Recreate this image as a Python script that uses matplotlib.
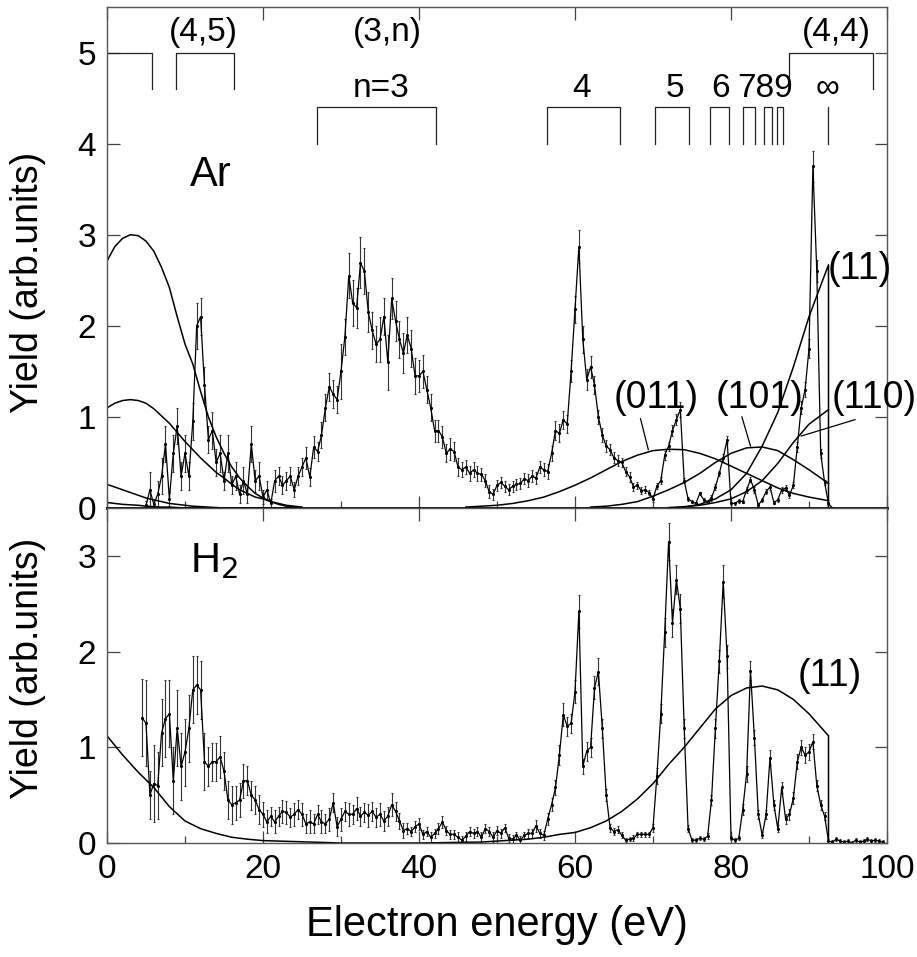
import numpy as np
import matplotlib
matplotlib.use('Agg')
import matplotlib.pyplot as plt
from matplotlib.ticker import MultipleLocator

plt.rcParams['font.family'] = ['Liberation Sans', 'DejaVu Sans']
TICK_FONT = ['Liberation Sans Narrow', 'Liberation Sans', 'DejaVu Sans']

# ---------------- Ar spectrum (top panel), 0.5 eV channels ----------------
ar_energy = np.arange(5.0, 93.01, 0.5)
ar_yield = [
    # 5.0 - 25.5
    0.03, 0.2, 0.04, 0.15, 0.35, 0.7, 0.1, 0.6, 0.9, 0.35,
    0.6, 0.35, 0.95, 2.0, 2.1, 1.35, 0.75, 0.85, 0.5, 0.6,
    0.3, 0.6, 0.25, 0.35, 0.15, 0.3, 0.15, 0.7, 0.3, 0.35,
    0.12, 0.2, 0.05, 0.3, 0.35, 0.25, 0.3, 0.35, 0.2, 0.35,
    0.45, 0.55,
    # 26.0 - 58.0
    0.34, 0.67, 0.62, 0.8, 1.1, 1.33, 1.25, 1.19, 1.5, 1.88,
    2.55, 2.25, 2.2, 2.69, 2.6, 2.15, 1.95, 1.8, 1.85, 2.1,
    1.6, 2.3, 2.05, 1.85, 1.7, 1.9, 1.75, 1.45, 1.45, 1.5,
    1.3, 1.1, 0.85, 0.85, 0.78, 0.6, 0.65, 0.62, 0.45, 0.42,
    0.45, 0.38, 0.42, 0.38, 0.37, 0.3, 0.18, 0.15, 0.25, 0.28,
    0.24, 0.2, 0.24, 0.26, 0.27, 0.32, 0.3, 0.35, 0.33, 0.45,
    0.42, 0.4, 0.6, 0.85, 0.82,
    # 58.5 - 93.0
    0.97, 0.92, 1.5, 2.18, 2.87, 1.85, 1.41, 1.55, 1.35, 1.0,
    0.8, 0.68, 0.64, 0.55, 0.52, 0.5, 0.4, 0.34, 0.23, 0.25,
    0.19, 0.2, 0.17, 0.1, 0.24, 0.3, 0.58, 0.68, 0.85, 0.97,
    1.08, 0.3, 0.1, 0.07, 0.05, 0.16, 0.09, 0.07, 0.11, 0.23,
    0.38, 0.55, 0.75, 0.05, 0.05, 0.08, 0.07, 0.2, 0.31, 0.2,
    0.03, 0.09, 0.18, 0.23, 0.06, 0.09, 0.2, 0.22, 0.14, 0.25,
    0.67, 1.1, 1.3, 1.75, 3.75, 2.6, 0.6, 0.28, 0.05, 0.0,
]
ar_err = [
    0.05, 0.2, 0.05, 0.15, 0.2, 0.2, 0.08, 0.2, 0.2, 0.15,
    0.2, 0.15, 0.2, 0.25, 0.2, 0.2, 0.15, 0.2, 0.15, 0.2,
    0.1, 0.2, 0.1, 0.15, 0.1, 0.15, 0.1, 0.2, 0.12, 0.15,
    0.08, 0.1, 0.05, 0.12, 0.1, 0.1, 0.1, 0.1, 0.08, 0.1,
    0.1, 0.12,
    0.1, 0.12, 0.1, 0.14, 0.15, 0.15, 0.15, 0.15, 0.3,
    0.2, 0.25, 0.25, 0.22, 0.28, 0.25, 0.22, 0.2, 0.2, 0.25,
    0.2, 0.3, 0.22, 0.22, 0.2, 0.22, 0.2, 0.2, 0.2, 0.18,
    0.18, 0.15, 0.15, 0.12, 0.12, 0.12, 0.1, 0.12, 0.1, 0.1,
    0.08, 0.08, 0.08, 0.08, 0.08, 0.07, 0.07, 0.07, 0.06, 0.06,
    0.06, 0.06, 0.06, 0.06, 0.06, 0.06, 0.06, 0.07, 0.07, 0.07,
    0.07, 0.07, 0.08, 0.08, 0.1, 0.1,
    0.1, 0.1, 0.12, 0.15, 0.18, 0.15, 0.12, 0.12, 0.1,
    0.08, 0.08, 0.07, 0.06, 0.06, 0.06, 0.05, 0.05, 0.05, 0.04,
    0.04, 0.04, 0.04, 0.03, 0.03,
    0.03, 0.04, 0.05, 0.05, 0.06, 0.06, 0.08, 0.03, 0.02, 0.02,
    0.02, 0.02, 0.02, 0.02, 0.03, 0.03, 0.03, 0.04, 0.04, 0.02,
    0.02, 0.02, 0.02, 0.03, 0.03, 0.03, 0.02, 0.02, 0.03, 0.03,
    0.02, 0.02, 0.03, 0.03, 0.03, 0.03, 0.05, 0.07, 0.08, 0.1,
    0.17, 0.12, 0.05, 0.03, 0.02, 0.0,
]

# model curves, Ar
low_e = list(range(0, 26))
ar_fit_a = [2.71, 2.87, 2.96, 3.0, 2.99, 2.93, 2.82, 2.64, 2.42, 2.1,
            1.8, 1.58, 1.28, 1.0, 0.78, 0.6, 0.45, 0.33, 0.24, 0.16,
            0.11, 0.07, 0.04, 0.02, 0.01, 0.0]
ar_fit_b = [1.1, 1.15, 1.18, 1.19, 1.18, 1.15, 1.09, 1.01, 0.93, 0.83,
            0.73, 0.64, 0.55, 0.47, 0.39, 0.33, 0.26, 0.2, 0.16, 0.12,
            0.1, 0.07, 0.05, 0.03, 0.02, 0.01]
ar_fit_c = [0.26, 0.23, 0.2, 0.17, 0.14, 0.11, 0.09, 0.07, 0.05, 0.04,
            0.03, 0.02, 0.015, 0.01, 0.005, 0.0, 0.0, 0.0, 0.0, 0.0,
            0.0, 0.0, 0.0, 0.0, 0.0, 0.0]
ar_fit_d = [0.06, 0.05, 0.04, 0.035, 0.03, 0.02, 0.015, 0.01, 0.01, 0.005,
            0.0, 0.0, 0.0, 0.0, 0.0, 0.0, 0.0, 0.0, 0.0, 0.0,
            0.0, 0.0, 0.0, 0.0, 0.0, 0.0]

fit_011_e = [46, 48, 50, 52, 54, 56, 58, 60, 62, 64, 66, 68, 70, 72, 74,
             76, 78, 80, 82, 84, 86, 88, 90, 92.5]
fit_011 = [0.01, 0.02, 0.03, 0.05, 0.08, 0.12, 0.18, 0.25, 0.33, 0.42,
           0.51, 0.58, 0.63, 0.645, 0.64, 0.6, 0.54, 0.46, 0.38, 0.3,
           0.22, 0.16, 0.12, 0.08]
fit_101_e = [62, 64, 66, 68, 70, 72, 74, 76, 78, 80, 82, 84, 86, 88, 90, 92.5]
fit_101 = [0.01, 0.02, 0.04, 0.07, 0.13, 0.2, 0.28, 0.38, 0.5, 0.6,
           0.66, 0.67, 0.63, 0.53, 0.42, 0.27]
fit_11_e = [74, 76, 78, 80, 82, 84, 86, 88, 90, 92.5, 92.5]
fit_11 = [0.01, 0.04, 0.1, 0.2, 0.38, 0.68, 1.05, 1.55, 2.1, 2.67, 0.0]
fit_110_e = [72, 74, 76, 78, 80, 82, 84, 86, 88, 90, 92.5]
fit_110 = [0.005, 0.015, 0.03, 0.06, 0.1, 0.18, 0.3, 0.49, 0.72, 0.92, 1.08]

# ---------------- H2 spectrum (bottom panel) ----------------
h2_energy = np.arange(4.5, 99.51, 0.5)
h2_yield = [
    # 4.5 - 51.0
    1.31, 1.25, 0.5, 0.62, 0.6, 1.15, 1.3, 1.35, 0.65, 1.2,
    0.8, 0.95, 1.2, 1.6, 1.65, 1.6, 0.85, 0.8, 0.85, 0.85,
    0.9, 0.75, 0.45, 0.4, 0.42, 0.45, 0.65, 0.65, 0.5, 0.45,
    0.35, 0.3, 0.22, 0.28, 0.22, 0.28, 0.33, 0.32, 0.27, 0.3,
    0.35, 0.3, 0.2, 0.22, 0.2, 0.3, 0.22, 0.2, 0.25, 0.42,
    0.17, 0.25, 0.33, 0.3, 0.3, 0.36, 0.28, 0.32, 0.29, 0.33,
    0.27, 0.3, 0.23, 0.28, 0.4, 0.33, 0.23, 0.13, 0.15, 0.12,
    0.17, 0.2, 0.09, 0.12, 0.06, 0.1, 0.15, 0.22, 0.13, 0.09,
    0.09, 0.06, 0.03, 0.07, 0.12, 0.1, 0.12, 0.06, 0.15, 0.12,
    0.06, 0.13, 0.1, 0.16,
    # 51.5 - 54.0
    0.05, 0.04, 0.08, 0.03, 0.08, 0.1,
    # 54.5 - 94.0
    0.1, 0.18, 0.1, 0.08, 0.25, 0.4, 0.58, 0.92, 1.34, 1.22,
    1.25, 1.58, 2.42, 0.8, 0.96, 1.0, 1.62, 1.79, 1.2, 0.5,
    0.16, 0.12, 0.14, 0.08, 0.03, 0.04, 0.05, 0.09, 0.09, 0.09,
    0.09, 0.16, 0.7, 1.35, 2.2, 3.15, 2.3, 2.75, 2.45, 1.2,
    0.15, 0.03, 0.03, 0.05, 0.04, 0.07, 0.45, 1.2, 1.9, 2.73,
    1.95, 0.05, 0.03, 0.05, 0.35, 0.72, 1.8, 1.1, 0.3, 0.08,
    0.3, 0.89, 0.4, 0.15, 0.58, 0.25, 0.3, 0.47, 0.85, 1.0,
    0.92, 0.95, 1.06, 0.6, 0.4, 0.28, 0.02, 0.01, 0.04, 0.02,
    # 94.5 - 99.5
    0.01, 0.02, 0.0, 0.03, 0.01, 0.02, 0.04, 0.02, 0.03, 0.02, 0.01,
]
h2_err = [
    0.4, 0.45, 0.25, 0.4, 0.35, 0.35, 0.4, 0.35, 0.35, 0.4,
    0.35, 0.35, 0.35, 0.35, 0.3, 0.3, 0.3,
    0.2, 0.2, 0.2, 0.22, 0.2, 0.2, 0.2, 0.18, 0.18, 0.18,
    0.15, 0.15, 0.15, 0.15, 0.13,
    0.12, 0.1, 0.12, 0.1, 0.12, 0.12, 0.1, 0.12, 0.1, 0.12,
    0.1, 0.12, 0.1, 0.1, 0.12, 0.1, 0.12, 0.1, 0.1, 0.12,
    0.1, 0.12, 0.1, 0.12, 0.1, 0.1, 0.12, 0.1, 0.1, 0.12,
    0.1, 0.1, 0.12, 0.1, 0.08, 0.08,
    0.06, 0.05, 0.06, 0.06, 0.05, 0.05, 0.05, 0.05, 0.06, 0.06,
    0.05, 0.05, 0.05, 0.05, 0.04, 0.05, 0.05, 0.05, 0.05, 0.05,
    0.05, 0.05, 0.05, 0.05, 0.05, 0.04, 0.04, 0.04, 0.04, 0.04,
    0.04, 0.05,
    0.05, 0.06, 0.05, 0.05, 0.06, 0.07, 0.08, 0.1, 0.12, 0.1,
    0.1, 0.12, 0.17, 0.08, 0.1, 0.1, 0.12, 0.14, 0.1, 0.06,
    0.04, 0.04, 0.04, 0.03, 0.02, 0.02, 0.03, 0.03, 0.03, 0.03,
    0.03, 0.04, 0.08, 0.1, 0.15, 0.19, 0.15, 0.15, 0.15, 0.1,
    0.04, 0.02, 0.02, 0.02, 0.02, 0.03, 0.05, 0.1, 0.12, 0.17,
    0.12, 0.02, 0.02, 0.02, 0.06, 0.08, 0.1, 0.08, 0.05, 0.03,
    0.05, 0.08, 0.05, 0.04, 0.06, 0.05, 0.06, 0.06, 0.08, 0.08,
    0.08, 0.08, 0.08, 0.06, 0.05, 0.04, 0.02, 0.02, 0.02, 0.02,
    0.02, 0.02, 0.02, 0.02, 0.02, 0.02, 0.02, 0.02, 0.02, 0.02, 0.02,
]
h2_fit_e = [0, 2, 4, 6, 8, 10, 12, 14, 16, 18, 20, 22, 24, 26, 28, 30,
            40, 44, 48, 50, 52, 54, 56, 58, 60, 62, 64, 66, 68, 70, 72,
            74, 76, 78, 80, 82, 84, 86, 88, 90, 92.5, 92.5]
h2_fit = [1.12, 0.92, 0.74, 0.58, 0.38, 0.23, 0.15, 0.1, 0.06, 0.04,
          0.025, 0.02, 0.015, 0.01, 0.005, 0.0, 0.0, 0.005, 0.01, 0.02,
          0.03, 0.04, 0.06, 0.09, 0.11, 0.16, 0.23, 0.33, 0.46, 0.62,
          0.82, 1.0, 1.2, 1.4, 1.54, 1.62, 1.64, 1.6, 1.5, 1.35,
          1.12, 0.0]

# ---------------- level diagram (eV positions) ----------------
# upper row: (left, right) of brackets at y 5.0 -> 4.6
upper_levels = [(-3.0, 5.8), (8.9, 16.3), (87.5, 98.2)]
upper_names = ['(4,5)', '(3,n)', '(4,4)']
upper_name_e = [12.3, 35.9, 93.5]
# lower row: y 4.4 -> 4.0 (n = 3 ... 9, series limit)
lower_levels = [(26.9, 42.2), (56.4, 65.8), (70.2, 74.6), (77.35, 79.8),
                (81.5, 83.1), (84.2, 85.2), (85.9, 86.7), (92.5, 92.5)]
lower_names = ['n=3', '4', '5', '6', '789', '\u221e']
lower_name_e = [35.2, 60.9, 72.8, 78.6, 84.4, 92.4]

# fit labels: (text, text x, text y, leader start x, y, leader end x, y)
fit_labels = [
    ('(011)', 64.9, 1.21, 68.4, 0.98, 69.4, 0.64),
    ('(101)', 78.0, 1.21, 81.4, 1.0, 82.5, 0.68),
    ('(110)', 92.9, 1.21, 95.9, 0.97, 89.0, 0.79),
    ('(11)', 92.4, 2.62, None, None, None, None),
]

fig = plt.figure(figsize=(9.17, 9.57), dpi=100)
ax1 = fig.add_axes([0.11668, 0.46917, 0.85060, 0.52351])
ax2 = fig.add_axes([0.11668, 0.11912, 0.85060, 0.35005])

err_kw = dict(fmt='-', color='black', lw=0.9, marker='.', ms=2.5,
              ecolor='#333333', elinewidth=0.8, capsize=1.0, capthick=0.8)

ax1.errorbar(ar_energy, ar_yield, yerr=ar_err, **err_kw)
for cy in (ar_fit_a, ar_fit_b, ar_fit_c, ar_fit_d):
    ax1.plot(low_e, cy, color='black', lw=1.1)
ax1.plot(fit_011_e, fit_011, color='black', lw=1.1)
ax1.plot(fit_101_e, fit_101, color='black', lw=1.1)
ax1.plot(fit_11_e, fit_11, color='black', lw=1.1)
ax1.plot(fit_110_e, fit_110, color='black', lw=1.1)

for l, r in upper_levels:
    ax1.plot([l, l, r, r], [4.6, 5.0, 5.0, 4.6], color='#222222', lw=0.9)
for name, ne in zip(upper_names, upper_name_e):
    ax1.text(ne, 5.22, name, ha='center', va='center', fontsize=24)
for l, r in lower_levels:
    if l == r:
        ax1.plot([l, l], [4.0, 4.4], color='#222222', lw=0.9)
    else:
        ax1.plot([l, l, r, r], [4.0, 4.4, 4.4, 4.0], color='#222222', lw=0.9)
for name, ne in zip(lower_names, lower_name_e):
    ax1.text(ne, 4.61, name, ha='center', va='center', fontsize=24)

for txt, tx, ty, lx0, ly0, lx1, ly1 in fit_labels:
    ax1.text(tx, ty, txt, ha='left', va='center', fontsize=27)
    if lx0 is not None:
        ax1.plot([lx0, lx1], [ly0, ly1], color='black', lw=0.9)

ax1.text(10.6, 3.53, 'Ar', fontsize=30, ha='left', va='baseline')

ax2.errorbar(h2_energy, h2_yield, yerr=h2_err, **err_kw)
ax2.plot(h2_fit_e, h2_fit, color='black', lw=1.1)
ax2.text(88.6, 1.75, '(11)', ha='left', va='center', fontsize=27)
ax2.text(10.6, 2.83, 'H$_2$', fontsize=30, ha='left', va='baseline')

ax1.set_xlim(0, 100)
ax1.set_ylim(0, 5.5)
ax2.set_xlim(0, 100)
ax2.set_ylim(0, 3.5)
ax1.set_yticks([0, 1, 2, 3, 4, 5])
ax2.set_yticks([0, 1, 2, 3])
for ax in (ax1, ax2):
    ax.xaxis.set_major_locator(MultipleLocator(20))
    ax.xaxis.set_minor_locator(MultipleLocator(10))
    ax.tick_params(which='both', direction='in', top=True, right=True,
                   width=0.9, color='#444444')
    ax.tick_params(which='major', length=9, labelsize=24, pad=8)
    ax.tick_params(which='minor', length=5, top=False)
    for s in ax.spines.values():
        s.set_color('#555555')
        s.set_linewidth(1.0)
    for lab in ax.get_xticklabels() + ax.get_yticklabels():
        lab.set_family(TICK_FONT)
ax1.tick_params(labelbottom=False)
ax1.spines['bottom'].set_color('black')
ax1.spines['bottom'].set_linewidth(2.0)

ax1.set_ylabel('Yield (arb.units)', fontsize=27)
ax2.set_ylabel('Yield (arb.units)', fontsize=27)
ax1.yaxis.set_label_coords(-0.078, 0.45)
ax2.yaxis.set_label_coords(-0.078, 0.52)
ax2.set_xlabel('Electron energy (eV)', fontsize=30)
ax2.xaxis.set_label_coords(0.5, -0.185)

fig.savefig('out.png', dpi=100)
